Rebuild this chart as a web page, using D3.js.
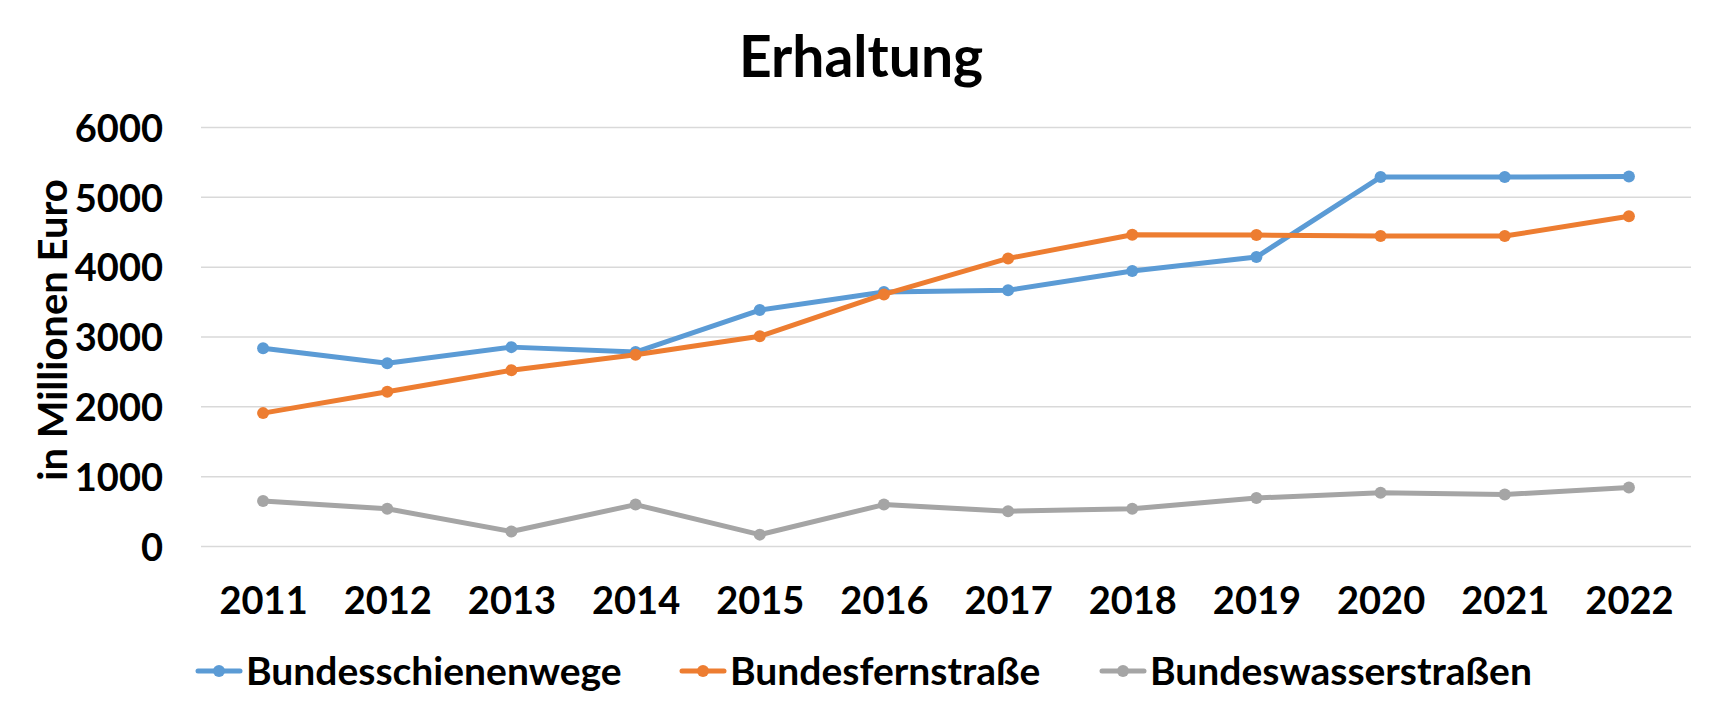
<!DOCTYPE html>
<html><head><meta charset="utf-8">
<script src="https://cdn.jsdelivr.net/npm/d3@7"></script>
<style>body{margin:0;background:#fff;} svg{display:block;}</style>
</head><body>
<svg id="chart" width="1724" height="714"></svg>
<script>
const years = ["2011","2012","2013","2014","2015","2016","2017","2018","2019","2020","2021","2022"];
const schiene = [2840,2625,2855,2785,3385,3645,3670,3945,4145,5290,5290,5300];
const fernstrasse = [1910,2215,2525,2745,3010,3610,4125,4465,4460,4445,4445,4730];
const wasser = [650,540,215,600,170,600,505,540,695,770,745,845];
const seriesNames = ["Bundesschienenwege","Bundesfernstraße","Bundeswasserstraßen"];
const seriesColors = ["#5B9BD5","#ED7D31","#A5A5A5"];
const yTicks = [0,1000,2000,3000,4000,5000,6000];
const title = "Erhaltung";
const yTitle = "in Millionen Euro";

const series = [schiene, fernstrasse, wasser];
const svg = d3.select("#chart");
const font = "Lato, 'Open Sans', sans-serif";
const m = {left:201, right:1691, top:127.5, bottom:546.5};

const x = d3.scalePoint().domain(years).range([m.left, m.right]).padding(0.5);
const y = d3.scaleLinear().domain([0,6000]).range([m.bottom, m.top]);

// gridlines
svg.append("g").selectAll("line").data(yTicks).join("line")
  .attr("x1", m.left).attr("x2", m.right)
  .attr("y1", d=>y(d)).attr("y2", d=>y(d))
  .attr("stroke", "#D9D9D9").attr("stroke-width", 1.5);

// y axis labels
const yAxis = svg.append("g").attr("transform", `translate(${m.left-38},0)`)
  .call(d3.axisLeft(y).tickValues(yTicks).tickFormat(d3.format("d")).tickSize(0).tickPadding(0));
yAxis.select(".domain").remove();
yAxis.selectAll("text").attr("font-family", font).attr("font-weight", 700)
  .attr("font-size", 38).attr("fill", "#000").attr("dy", "0.36em");

// x axis labels
const xAxis = svg.append("g").attr("transform", `translate(0,${m.bottom+41})`)
  .call(d3.axisBottom(x).tickSize(0).tickPadding(0));
xAxis.select(".domain").remove();
xAxis.selectAll("text").attr("font-family", font).attr("font-weight", 700)
  .attr("font-size", 38).attr("fill", "#000").attr("dy", "0.71em");

// lines
const line = d3.line().x((d,i)=>x(years[i])).y(d=>y(d));
series.forEach((s, k) => {
  svg.append("path").datum(s).attr("d", line).attr("fill", "none")
    .attr("stroke", seriesColors[k]).attr("stroke-width", 5)
    .attr("stroke-linejoin", "round").attr("stroke-linecap", "round");
  svg.append("g").selectAll("circle").data(s).join("circle")
    .attr("cx", (d,i)=>x(years[i])).attr("cy", d=>y(d)).attr("r", 6)
    .attr("fill", seriesColors[k]);
});

// title
svg.append("text").attr("x", 861).attr("y", 77).attr("text-anchor", "middle")
  .attr("font-family", font).attr("font-weight", 700).attr("font-size", 57)
  .text(title);

// y title
svg.append("text").attr("transform", `translate(67,330) rotate(-90)`)
  .attr("text-anchor", "middle").attr("font-family", font).attr("font-weight", 700)
  .attr("font-size", 40).text(yTitle);

// legend
const legendX = [198, 682, 1102];
const lg = svg.append("g").attr("transform", "translate(0,671)");
seriesNames.forEach((n, k) => {
  const g = lg.append("g").attr("transform", `translate(${legendX[k]},0)`);
  g.append("line").attr("x1", 0).attr("x2", 42).attr("y1", 0).attr("y2", 0)
    .attr("stroke", seriesColors[k]).attr("stroke-width", 5).attr("stroke-linecap","round");
  g.append("circle").attr("cx", 21).attr("cy", 0).attr("r", 6).attr("fill", seriesColors[k]);
  g.append("text").attr("x", 48).attr("y", 0).attr("dy", "0.36em")
    .attr("font-family", font).attr("font-weight", 700).attr("font-size", 39).text(n);
});
</script>
</body></html>
